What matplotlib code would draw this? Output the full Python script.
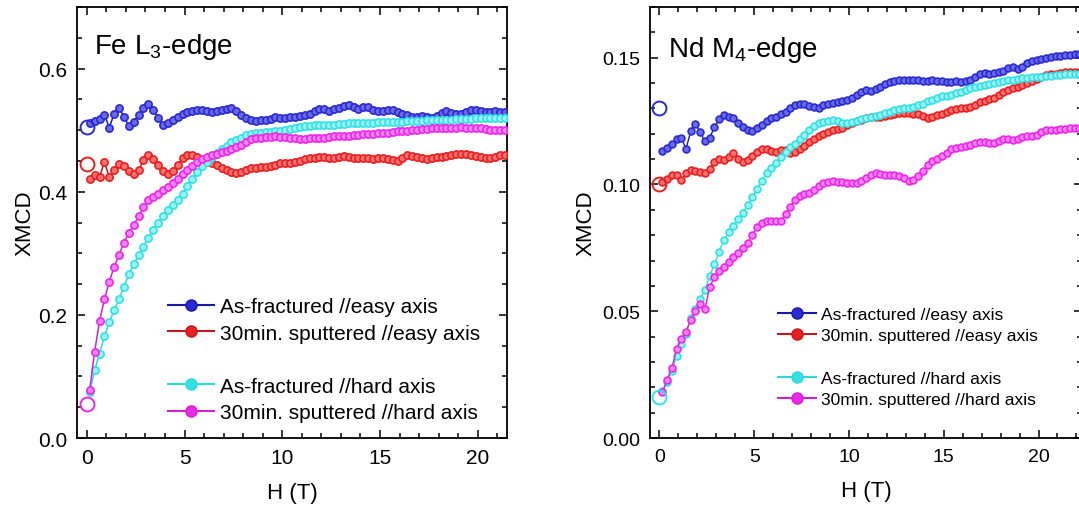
import matplotlib
matplotlib.use("Agg")
import matplotlib.pyplot as plt
from matplotlib.lines import Line2D
from matplotlib.ticker import MultipleLocator, FormatStrFormatter

plt.rcParams['font.family'] = ['Liberation Sans', 'DejaVu Sans']

# field values (T), shared by both panels
H = [0.15, 0.40, 0.65, 0.90, 1.15, 1.40, 1.65, 1.90, 2.15, 2.40,
     2.65, 2.90, 3.15, 3.40, 3.65, 3.90, 4.15, 4.40, 4.65, 4.90,
     5.15, 5.40, 5.65, 5.90, 6.15, 6.40, 6.65, 6.90, 7.15, 7.40,
     7.65, 7.90, 8.15, 8.40, 8.65, 8.90, 9.15, 9.40, 9.65, 9.90,
     10.15, 10.40, 10.65, 10.90, 11.15, 11.40, 11.65, 11.90, 12.15, 12.40,
     12.65, 12.90, 13.15, 13.40, 13.65, 13.90, 14.15, 14.40, 14.65, 14.90,
     15.15, 15.40, 15.65, 15.90, 16.15, 16.40, 16.65, 16.90, 17.15, 17.40,
     17.65, 17.90, 18.15, 18.40, 18.65, 18.90, 19.15, 19.40, 19.65, 19.90,
     20.15, 20.40, 20.65, 20.90, 21.15, 21.40, 21.65, 21.90, 22.15, 22.40]

# ---- Fe L3-edge ----
fe_easy_frac = [0.512, 0.515, 0.518, 0.525, 0.504, 0.527, 0.536, 0.522, 0.506, 0.513,
                0.525, 0.536, 0.543, 0.533, 0.520, 0.509, 0.511, 0.516, 0.521, 0.526,
                0.529, 0.531, 0.533, 0.532, 0.531, 0.529, 0.531, 0.533, 0.535, 0.536,
                0.531, 0.524, 0.519, 0.516, 0.515, 0.516, 0.516, 0.518, 0.521, 0.520,
                0.519, 0.521, 0.522, 0.523, 0.524, 0.527, 0.531, 0.535, 0.534, 0.531,
                0.534, 0.536, 0.539, 0.541, 0.538, 0.534, 0.537, 0.537, 0.533, 0.531,
                0.531, 0.532, 0.533, 0.530, 0.527, 0.524, 0.521, 0.522, 0.523, 0.521,
                0.520, 0.523, 0.528, 0.531, 0.528, 0.527, 0.527, 0.529, 0.532, 0.532,
                0.531, 0.530, 0.530, 0.531, 0.530, 0.530, 0.531, 0.530, 0.531, 0.530]
fe_easy_sput = [0.420, 0.427, 0.424, 0.448, 0.424, 0.436, 0.445, 0.441, 0.433, 0.429,
                0.435, 0.451, 0.459, 0.453, 0.443, 0.434, 0.429, 0.434, 0.444, 0.454,
                0.459, 0.460, 0.457, 0.452, 0.448, 0.446, 0.443, 0.439, 0.435, 0.432,
                0.431, 0.432, 0.435, 0.438, 0.439, 0.440, 0.440, 0.441, 0.444, 0.446,
                0.446, 0.447, 0.448, 0.450, 0.453, 0.454, 0.455, 0.456, 0.456, 0.455,
                0.455, 0.456, 0.458, 0.457, 0.455, 0.454, 0.455, 0.454, 0.453, 0.454,
                0.455, 0.453, 0.451, 0.450, 0.455, 0.459, 0.458, 0.456, 0.455, 0.453,
                0.455, 0.456, 0.457, 0.458, 0.459, 0.461, 0.462, 0.461, 0.459, 0.458,
                0.457, 0.455, 0.455, 0.457, 0.459, 0.460, 0.460, 0.459, 0.460, 0.460]
fe_hard_frac = [0.075, 0.110, 0.137, 0.165, 0.188, 0.208, 0.225, 0.246, 0.266, 0.282,
                0.297, 0.311, 0.325, 0.338, 0.350, 0.360, 0.370, 0.378, 0.386, 0.397,
                0.409, 0.421, 0.432, 0.441, 0.449, 0.457, 0.463, 0.469, 0.475, 0.480,
                0.484, 0.488, 0.492, 0.494, 0.495, 0.496, 0.497, 0.497, 0.498, 0.499,
                0.500, 0.502, 0.503, 0.505, 0.506, 0.507, 0.508, 0.508, 0.508, 0.509,
                0.509, 0.510, 0.510, 0.511, 0.511, 0.511, 0.512, 0.512, 0.512, 0.513,
                0.513, 0.513, 0.514, 0.514, 0.514, 0.515, 0.515, 0.515, 0.515, 0.516,
                0.516, 0.516, 0.517, 0.517, 0.517, 0.518, 0.518, 0.518, 0.518, 0.519,
                0.519, 0.519, 0.519, 0.519, 0.520, 0.520, 0.520, 0.521, 0.521, 0.521]
fe_hard_sput = [0.078, 0.140, 0.190, 0.225, 0.254, 0.278, 0.298, 0.317, 0.333, 0.346,
                0.360, 0.375, 0.386, 0.391, 0.396, 0.402, 0.408, 0.414, 0.421, 0.428,
                0.435, 0.442, 0.448, 0.453, 0.456, 0.459, 0.462, 0.464, 0.466, 0.469,
                0.472, 0.476, 0.481, 0.485, 0.487, 0.488, 0.489, 0.489, 0.490, 0.489,
                0.489, 0.488, 0.487, 0.486, 0.486, 0.487, 0.487, 0.487, 0.488, 0.489,
                0.490, 0.490, 0.491, 0.491, 0.492, 0.492, 0.493, 0.493, 0.494, 0.495,
                0.495, 0.496, 0.497, 0.498, 0.498, 0.499, 0.500, 0.501, 0.502, 0.502,
                0.503, 0.503, 0.503, 0.504, 0.504, 0.504, 0.505, 0.504, 0.503, 0.504,
                0.503, 0.502, 0.501, 0.501, 0.500, 0.500, 0.500, 0.500, 0.501, 0.501]
# values at zero field (open circles)
fe_zero = {'easy_frac': 0.505, 'easy_sput': 0.445, 'hard_sput': 0.055}

# ---- Nd M4-edge ----
nd_easy_frac = [0.1132, 0.1142, 0.1160, 0.1178, 0.1185, 0.1140, 0.1210, 0.1240, 0.1205, 0.1170,
                0.1185, 0.1225, 0.1258, 0.1274, 0.1268, 0.1263, 0.1242, 0.1226, 0.1214, 0.1211,
                0.1222, 0.1235, 0.1252, 0.1263, 0.1268, 0.1276, 0.1285, 0.1300, 0.1312, 0.1318,
                0.1316, 0.1310, 0.1305, 0.1300, 0.1312, 0.1318, 0.1322, 0.1325, 0.1330, 0.1335,
                0.1340, 0.1352, 0.1365, 0.1372, 0.1368, 0.1375, 0.1385, 0.1395, 0.1405, 0.1410,
                0.1412, 0.1412, 0.1413, 0.1412, 0.1413, 0.1410, 0.1408, 0.1412, 0.1410, 0.1408,
                0.1406, 0.1405, 0.1407, 0.1405, 0.1408, 0.1414, 0.1425, 0.1435, 0.1440, 0.1436,
                0.1438, 0.1442, 0.1448, 0.1458, 0.1462, 0.1456, 0.1465, 0.1478, 0.1486, 0.1489,
                0.1493, 0.1498, 0.1502, 0.1505, 0.1507, 0.1510, 0.1512, 0.1514, 0.1516, 0.1517]
nd_easy_sput = [0.1010, 0.1023, 0.1036, 0.1038, 0.1016, 0.1044, 0.1056, 0.1052, 0.1049, 0.1047,
                0.1062, 0.1089, 0.1101, 0.1095, 0.1109, 0.1124, 0.1100, 0.1089, 0.1096, 0.1111,
                0.1128, 0.1140, 0.1141, 0.1131, 0.1128, 0.1137, 0.1135, 0.1126, 0.1128, 0.1139,
                0.1152, 0.1166, 0.1180, 0.1190, 0.1200, 0.1208, 0.1214, 0.1220, 0.1224, 0.1233,
                0.1242, 0.1249, 0.1255, 0.1262, 0.1267, 0.1266, 0.1267, 0.1270, 0.1274, 0.1277,
                0.1280, 0.1281, 0.1280, 0.1279, 0.1276, 0.1270, 0.1263, 0.1268, 0.1274, 0.1279,
                0.1286, 0.1292, 0.1299, 0.1301, 0.1302, 0.1306, 0.1314, 0.1324, 0.1330, 0.1336,
                0.1342, 0.1354, 0.1365, 0.1372, 0.1380, 0.1386, 0.1391, 0.1399, 0.1407, 0.1416,
                0.1425, 0.1430, 0.1434, 0.1437, 0.1440, 0.1442, 0.1443, 0.1444, 0.1445, 0.1446]
nd_hard_frac = [0.0185, 0.0222, 0.0265, 0.0322, 0.0372, 0.0410, 0.0475, 0.0510, 0.0550, 0.0585,
                0.0640, 0.0685, 0.0735, 0.0780, 0.0812, 0.0835, 0.0862, 0.0888, 0.0918, 0.0950,
                0.0983, 0.1014, 0.1044, 0.1065, 0.1085, 0.1110, 0.1128, 0.1147, 0.1160, 0.1178,
                0.1197, 0.1215, 0.1229, 0.1242, 0.1248, 0.1251, 0.1253, 0.1250, 0.1242, 0.1243,
                0.1246, 0.1252, 0.1260, 0.1264, 0.1267, 0.1270, 0.1274, 0.1280, 0.1287, 0.1293,
                0.1299, 0.1301, 0.1303, 0.1307, 0.1313, 0.1319, 0.1328, 0.1335, 0.1342, 0.1347,
                0.1350, 0.1353, 0.1360, 0.1366, 0.1372, 0.1379, 0.1384, 0.1389, 0.1393, 0.1397,
                0.1401, 0.1404, 0.1407, 0.1411, 0.1413, 0.1416, 0.1418, 0.1420, 0.1422, 0.1424,
                0.1425, 0.1427, 0.1429, 0.1431, 0.1432, 0.1434, 0.1435, 0.1436, 0.1437, 0.1438]
nd_hard_sput = [0.0180, 0.0228, 0.0275, 0.0350, 0.0390, 0.0420, 0.0465, 0.0500, 0.0530, 0.0510,
                0.0595, 0.0635, 0.0660, 0.0676, 0.0695, 0.0712, 0.0730, 0.0750, 0.0770, 0.0800,
                0.0832, 0.0848, 0.0854, 0.0854, 0.0855, 0.0856, 0.0885, 0.0910, 0.0940, 0.0955,
                0.0963, 0.0967, 0.0980, 0.0994, 0.1005, 0.1011, 0.1012, 0.1010, 0.1009, 0.1006,
                0.1004, 0.1006, 0.1012, 0.1026, 0.1038, 0.1045, 0.1043, 0.1038, 0.1036, 0.1037,
                0.1034, 0.1024, 0.1015, 0.1018, 0.1032, 0.1052, 0.1075, 0.1093, 0.1102, 0.1112,
                0.1124, 0.1138, 0.1144, 0.1147, 0.1150, 0.1157, 0.1163, 0.1166, 0.1168, 0.1165,
                0.1162, 0.1172, 0.1181, 0.1180, 0.1176, 0.1180, 0.1187, 0.1190, 0.1193, 0.1197,
                0.1206, 0.1214, 0.1214, 0.1215, 0.1218, 0.1220, 0.1221, 0.1222, 0.1224, 0.1225]
nd_zero = {'easy_frac': 0.130, 'easy_sput': 0.100, 'hard_frac': 0.016}

labels = ['As-fractured //easy axis', '30min. sputtered //easy axis',
          'As-fractured //hard axis', '30min. sputtered //hard axis']
keys = ['easy_frac', 'easy_sput', 'hard_frac', 'hard_sput']
line_col = {'easy_frac': '#1a1aa8', 'easy_sput': '#c01a1a', 'hard_frac': '#30d8dc', 'hard_sput': '#d020d0'}
mark_col = {'easy_frac': '#2a2ad0', 'easy_sput': '#e82020', 'hard_frac': '#34e0e4', 'hard_sput': '#ea28ea'}
face_col = {'easy_frac': '#6a6ae8', 'easy_sput': '#ff7070', 'hard_frac': '#98f4f6', 'hard_sput': '#f884f8'}

fig = plt.figure(figsize=(10.79, 5.06), dpi=100)
ax1 = fig.add_axes([0.0714, 0.1324, 0.3985, 0.8518])
ax2 = fig.add_axes([0.6024, 0.1324, 0.4005, 0.8518])


def draw(ax, series, zero, ms, lw):
    for k in keys:
        ax.plot(H, series[k], '-o', color=line_col[k], lw=lw, ms=ms,
                mfc=face_col[k], mec=mark_col[k], mew=1.2, zorder=3)
    for k, v in zero.items():
        ax.plot([0], [v], 'o', ms=10, mfc='none', mec=mark_col[k], mew=1.4, zorder=4)


draw(ax1, {'easy_frac': fe_easy_frac, 'easy_sput': fe_easy_sput,
           'hard_frac': fe_hard_frac, 'hard_sput': fe_hard_sput}, fe_zero, 5.2, 1.1)
draw(ax2, {'easy_frac': nd_easy_frac, 'easy_sput': nd_easy_sput,
           'hard_frac': nd_hard_frac, 'hard_sput': nd_hard_sput}, nd_zero, 4.9, 1.0)

ax1.set_xlim(-0.5, 21.5)
ax1.set_ylim(0, 0.70)
ax1.yaxis.set_major_locator(MultipleLocator(0.2))
ax1.yaxis.set_minor_locator(MultipleLocator(0.05))
ax1.yaxis.set_major_formatter(FormatStrFormatter('%.1f'))

ax2.set_xlim(-0.5, 22.3)
ax2.set_ylim(0, 0.17)
ax2.yaxis.set_major_locator(MultipleLocator(0.05))
ax2.yaxis.set_minor_locator(MultipleLocator(0.01))
ax2.yaxis.set_major_formatter(FormatStrFormatter('%.2f'))

for ax, fs, ypad in [(ax1, 15, 2), (ax2, 14, 4.5)]:
    ax.xaxis.set_major_locator(MultipleLocator(5))
    ax.xaxis.set_minor_locator(MultipleLocator(1))
    ax.tick_params(which='both', direction='in', top=True, right=True, width=1.1)
    ax.tick_params(which='major', length=6, labelsize=fs, pad=7)
    ax.tick_params(which='minor', length=3.5)
    for s in ax.spines.values():
        s.set_linewidth(1.3)
    ax.set_xlabel('H (T)', fontsize=16, labelpad=11)
    ax.set_ylabel('XMCD', fontsize=16, labelpad=ypad)

ax1.text(0.04, 0.945, 'Fe L$_\\mathregular{3}$-edge', transform=ax1.transAxes,
         fontsize=20, va='top', ha='left')
ax2.text(0.042, 0.938, 'Nd M$_\\mathregular{4}$-edge', transform=ax2.transAxes,
         fontsize=20, va='top', ha='left')

# legends with an empty row between easy and hard axis entries
for ax, fs, anchor in [(ax1, 15, (0.212, 0.327)), (ax2, 12.5, (0.296, 0.305))]:
    hs = []
    for k, lab in zip(keys, labels):
        hs.append(Line2D([], [], color=line_col[k], lw=1.5, marker='o', ms=8,
                         mfc=mark_col[k], mec=line_col[k], label=lab))
    hs.insert(2, Line2D([], [], color='none', label=' '))
    ax.legend(handles=hs, loc='upper left', bbox_to_anchor=anchor, frameon=False,
              fontsize=fs, handlelength=2.2, handletextpad=0.3, labelspacing=0.36,
              borderpad=0, borderaxespad=0, numpoints=1)

fig.savefig('out.png', dpi=100)
